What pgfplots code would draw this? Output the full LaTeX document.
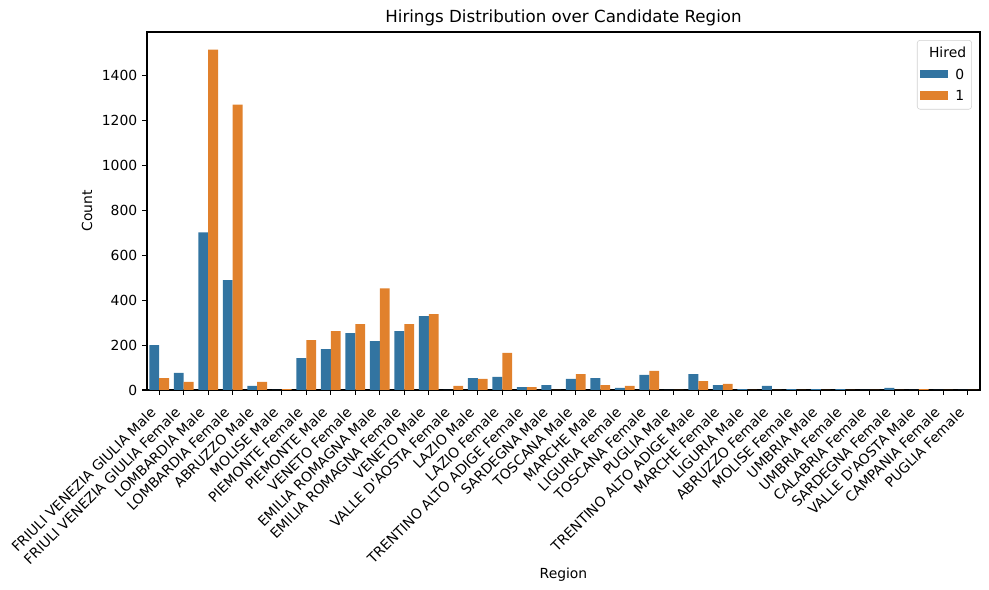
\documentclass[border=0pt]{standalone}
\usepackage{pgfplots}
\pgfplotsset{compat=1.18}
\usepackage{fontspec}
\setmainfont{DejaVu Sans}
\definecolor{sblue}{HTML}{3274A1}
\definecolor{sorange}{HTML}{E1812C}
\pgfplotsset{mybarlegend/.style={legend image code/.code={\fill[##1, sharp corners] (0pt,-2.4pt) rectangle (20pt,3.8pt);}}}
\begin{document}
\begin{tikzpicture}
\begin{axis}[
  at={(0,0)}, anchor=south west,
  scale only axis, width=599.76pt, height=257.76pt,
  ybar=0pt, bar width=0.4,
  xmin=-0.5, xmax=33.5, ymin=0, ymax=1594,
  xtick={0,...,33},
  xticklabels={FRIULI VENEZIA GIULIA Male, FRIULI VENEZIA GIULIA Female, LOMBARDIA Male, LOMBARDIA Female, ABRUZZO Male, MOLISE Male, PIEMONTE Female, PIEMONTE Male, VENETO Female, EMILIA ROMAGNA Male, EMILIA ROMAGNA Female, VENETO Male, VALLE D\textquotesingle AOSTA Female, LAZIO Male, LAZIO Female, TRENTINO ALTO ADIGE Female, SARDEGNA Male, TOSCANA Male, MARCHE Male, LIGURIA Female, TOSCANA Female, PUGLIA Male, TRENTINO ALTO ADIGE Male, MARCHE Female, LIGURIA Male, ABRUZZO Female, MOLISE Female, UMBRIA Male, UMBRIA Female, CALABRIA Female, SARDEGNA Female, VALLE D\textquotesingle AOSTA Male, CAMPANIA Female, PUGLIA Female},
  ytick={0,200,...,1400},
  tick align=outside, major tick length=3.5pt,
  xtick pos=left, ytick pos=left,
  tick style={black, line width=0.8pt},
  axis line style={line width=0.8pt},
  /pgf/number format/assume math mode=true,
  /pgf/number format/1000 sep={},
  ticklabel style={font=\fontsize{10}{12}\selectfont},
  xticklabel style={xshift=-1.7pt, yshift=-13.5pt, rotate=45, anchor=base east, inner sep=0pt},
  xlabel={Region}, ylabel={Count},
  label style={font=\fontsize{10}{12}\selectfont},
  xlabel style={yshift=2pt},
  title={Hirings Distribution over Candidate Region},
  title style={font=\fontsize{12}{14}\selectfont, yshift=-5.5pt},
  legend style={at={(1,1)}, anchor=north east, xshift=-5.8pt, yshift=-5.8pt,
    draw=black!18, rounded corners=2pt, font=\fontsize{10}{12}\selectfont,
    nodes={inner ysep=3.3pt}, inner xsep=2pt, inner ysep=1.5pt, column sep=3.5pt},
  legend cell align=left,
]
\addlegendimage{empty legend}
\addlegendentry{\hspace*{-19pt}Hired}
\addplot[fill=sblue, draw=none, mybarlegend] coordinates {
(0,200) (1,76) (2,702) (3,489) (4,18) (5,0) (6,142) (7,182) (8,253) (9,218)
(10,262) (11,329) (12,0) (13,53) (14,58) (15,13) (16,22) (17,49) (18,53) (19,9)
(20,67) (21,0) (22,71) (23,22) (24,4) (25,18) (26,4) (27,4) (28,4) (29,0)
(30,9) (31,0) (32,0) (33,0)};
\addlegendentry{0}
\addplot[fill=sorange, draw=none, mybarlegend] coordinates {
(0,53) (1,36) (2,1516) (3,1271) (4,36) (5,4) (6,222) (7,262) (8,293) (9,453)
(10,293) (11,338) (12,18) (13,49) (14,165) (15,13) (16,0) (17,71) (18,22) (19,18)
(20,85) (21,0) (22,40) (23,27) (24,0) (25,0) (26,0) (27,0) (28,0) (29,0)
(30,0) (31,4) (32,0) (33,0)};
\addlegendentry{1}
\end{axis}
\pgfresetboundingbox
\useasboundingbox (-105.84pt,-144pt) rectangle (606.24pt,280.8pt);
\end{tikzpicture}
\end{document}
